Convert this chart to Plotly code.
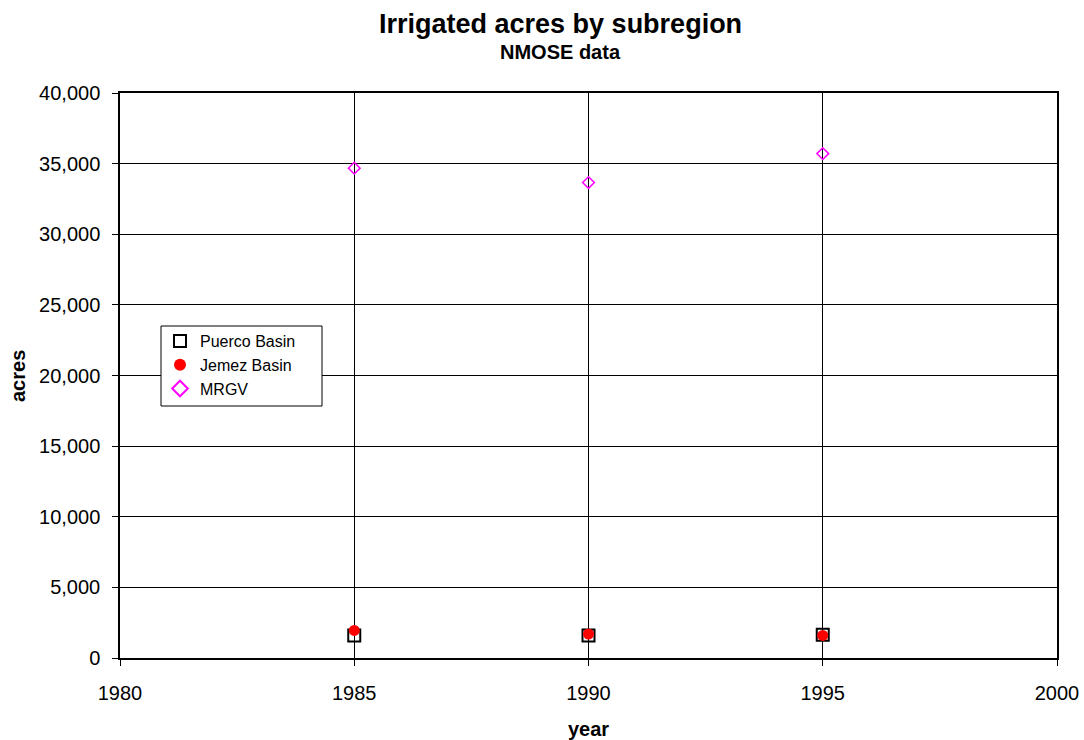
import plotly.graph_objects as go

years = [1985, 1990, 1995]
puerco_basin = [1600, 1600, 1650]
jemez_basin = [1950, 1700, 1600]
mrgv = [34680, 33660, 35710]

FIG_W, FIG_H = 1084, 740
M_L, M_R, M_T, M_B = 120, 27, 93, 82
PLOT_H = FIG_H - M_T - M_B
PLOT_W = FIG_W - M_L - M_R

FONT = "Arial, Liberation Sans, sans-serif"


def px_x(px):
    # page pixel -> paper x
    return (px - M_L) / PLOT_W


def px_y(py):
    # page pixel -> paper y
    return (FIG_H - M_B - py) / PLOT_H


def main() -> None:
    fig = go.Figure()

    fig.add_trace(go.Scatter(
        x=years, y=puerco_basin, mode="markers", name="Puerco Basin",
        marker=dict(symbol="square-open", size=12, color="black",
                    line=dict(width=2, color="black")),
    ))
    fig.add_trace(go.Scatter(
        x=years, y=jemez_basin, mode="markers", name="Jemez Basin",
        marker=dict(symbol="circle", size=11, color="#ff0000"),
    ))
    fig.add_trace(go.Scatter(
        x=years, y=mrgv, mode="markers", name="MRGV",
        marker=dict(symbol="diamond-open", size=9, color="#ff00ff",
                    line=dict(width=1.5, color="#ff00ff")),
    ))

    fig.update_layout(
        width=FIG_W, height=FIG_H,
        margin=dict(l=M_L, r=M_R, t=M_T, b=M_B, autoexpand=False),
        paper_bgcolor="white", plot_bgcolor="white",
        font=dict(family=FONT, color="black"),
        showlegend=True,
        legend=dict(
            x=px_x(160), y=px_y(324), xanchor="left", yanchor="top",
            bgcolor="rgba(0,0,0,0)", borderwidth=0,
            font=dict(size=16), tracegroupgap=0, itemsizing="constant",
        ),
    )

    # legend frame drawn as a shape so its width matches the original
    fig.add_shape(
        type="rect", xref="paper", yref="paper",
        x0=px_x(161), x1=px_x(322), y0=px_y(406), y1=px_y(326),
        fillcolor="white", line=dict(color="black", width=1), layer="above",
    )

    fig.add_annotation(
        text="<b>Irrigated acres by subregion</b>",
        xref="paper", yref="paper", x=px_x(560), y=px_y(24),
        xanchor="center", yanchor="middle", showarrow=False,
        font=dict(size=27),
    )
    fig.add_annotation(
        text="<b>NMOSE data</b>",
        xref="paper", yref="paper", x=px_x(560), y=px_y(52),
        xanchor="center", yanchor="middle", showarrow=False,
        font=dict(size=20),
    )
    fig.add_annotation(
        text="<b>year</b>",
        xref="paper", yref="paper", x=px_x(588), y=px_y(729),
        xanchor="center", yanchor="middle", showarrow=False,
        font=dict(size=20),
    )
    fig.add_annotation(
        text="<b>acres</b>", textangle=-90,
        xref="paper", yref="paper", x=px_x(18), y=px_y(376),
        xanchor="center", yanchor="middle", showarrow=False,
        font=dict(size=20),
    )

    fig.update_xaxes(
        range=[1980, 2000], tick0=1980, dtick=5, automargin=False,
        showgrid=True, gridcolor="black", gridwidth=1,
        showline=True, linecolor="black", linewidth=1.5, mirror=True,
        ticks="outside", ticklen=6, tickcolor="black",
        tickfont=dict(size=20), zeroline=False, ticklabelstandoff=10,
    )
    fig.update_yaxes(
        range=[0, 40000], tick0=0, dtick=5000, tickformat=",",
        automargin=False,
        showgrid=True, gridcolor="black", gridwidth=1,
        showline=True, linecolor="black", linewidth=1.5, mirror=True,
        ticks="outside", ticklen=6, tickcolor="black",
        tickfont=dict(size=20), zeroline=False, ticklabelstandoff=8,
    )

    fig.write_html(
        "out.html",
        config={"displayModeBar": False},
        post_script="document.body.style.margin='0';",
    )


if __name__ == "__main__":
    main()
